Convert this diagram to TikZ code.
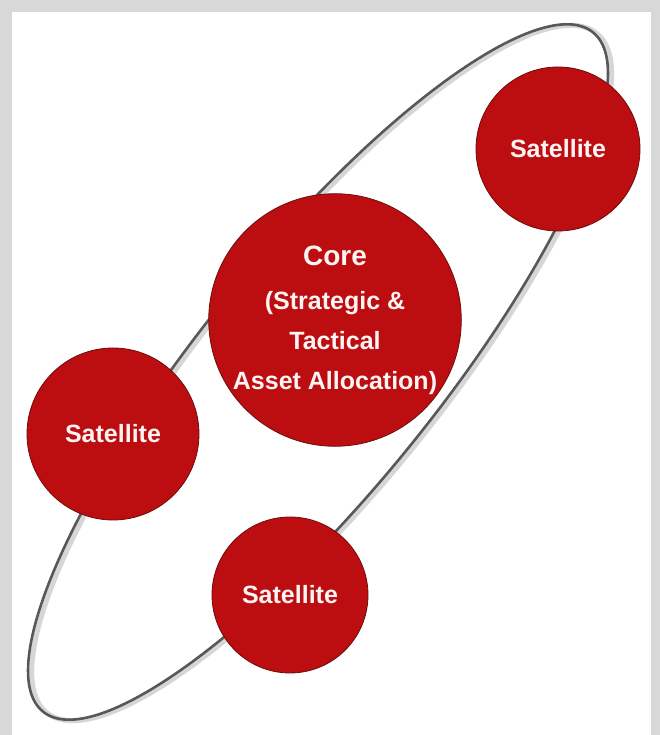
\documentclass[tikz,border=0pt]{standalone}
\usepackage{fontspec}
\setmainfont{Liberation Sans}
\definecolor{framegray}{RGB}{216,216,216}
\definecolor{discred}{RGB}{188,14,16}
\definecolor{discedge}{RGB}{110,12,12}
\definecolor{orbitgray}{RGB}{88,88,90}
\definecolor{labelwhite}{RGB}{255,244,244}
\begin{document}
\begin{tikzpicture}[x=1pt,y=1pt,
  disc/.style={circle, fill=discred, draw=discedge, line width=0.8pt,
    inner sep=0pt, text=labelwhite, align=center,
    font=\bfseries\fontsize{25}{40}\selectfont},
  orbit/.style={draw=orbitgray, line width=2.6pt},
  orbitshade/.style={draw=black!16, line width=5pt}]
% page frame
\fill[framegray] (0,0) rectangle (660,735);
\fill[white] (12,0) rectangle (651,723);
\useasboundingbox (0,0) rectangle (660,735);
% tilted orbit around the portfolio
\coordinate (hub) at (318,363);
\begin{scope}[shift={(hub)}, rotate=51]
  \draw[orbitshade] (1.5,-3.5) ellipse [x radius=437, y radius=118];
  \draw[orbit] (0,0) ellipse [x radius=437, y radius=118];
\end{scope}
% core and satellites
\node[disc, minimum size=164] (satNE) at (558,586) {Satellite};
\node[disc, minimum size=244] (core) at (335,415)
  {{\fontsize{28}{40}\selectfont Core}\\[4pt]
   (Strategic \&\\ Tactical\\ Asset Allocation)};
\node[disc, minimum size=172] (satW) at (113,301) {Satellite};
\node[disc, minimum size=156] (satS) at (290,140) {Satellite};
\end{tikzpicture}
\end{document}
